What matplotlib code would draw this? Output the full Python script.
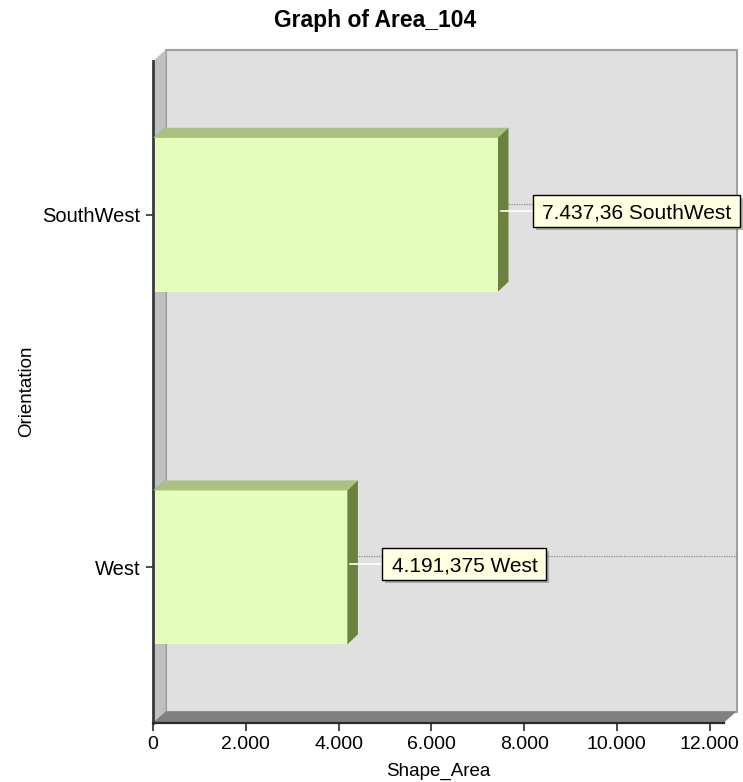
import matplotlib
matplotlib.use("Agg")
import matplotlib.pyplot as plt
from matplotlib.patches import Polygon, Rectangle
from matplotlib.lines import Line2D
from matplotlib.transforms import IdentityTransform

# ---- data ----
categories = ["West", "SouthWest"]
values = [4191.375, 7437.36]
value_labels = ["4.191,375", "7.437,36"]
x_ticks = [0, 2000, 4000, 6000, 8000, 10000, 12000]
x_tick_labels = ["0", "2.000", "4.000", "6.000", "8.000", "10.000", "12.000"]

title = "Graph of Area_104"
x_label = "Shape_Area"
y_label = "Orientation"

plt.rcParams["font.family"] = ["Liberation Sans", "DejaVu Sans"]

W, H, DPI = 743, 782, 100
fig = plt.figure(figsize=(W / DPI, H / DPI), dpi=DPI)
fig.patch.set_facecolor("white")

left_px, right_px, top_px, bottom_px = 153, 724, 61, 722.5
ax = fig.add_axes([left_px / W, (H - bottom_px) / H,
                   (right_px - left_px) / W, (bottom_px - top_px) / H])
ax.set_zorder(1)
xmax = 12310
ylo, yhi = -0.44, 1.436
ax.set_xlim(0, xmax)
ax.set_ylim(ylo, yhi)
ax.patch.set_visible(False)

# depth of the 3D frame and of the bars, in pixels
WALL_D = (12.5, 11.0)
BAR_D = (10.5, 10.0)
BAR_H = 0.4365

ident = IdentityTransform()


def px(x, y, d=(0, 0)):
    X, Y = ax.transData.transform((x, y))
    return (X + d[0], Y + d[1])


# back wall
back = Polygon([px(0, ylo, WALL_D), px(xmax, ylo, WALL_D),
                px(xmax, yhi, WALL_D), px(0, yhi, WALL_D)],
               closed=True, transform=ident, facecolor="#E0E0E0",
               edgecolor="#A0A0A0", linewidth=1.5, zorder=0.5)
fig.add_artist(back)

# left wall
lwall = Polygon([px(0, ylo), px(0, yhi), px(0, yhi, WALL_D), px(0, ylo, WALL_D)],
                closed=True, transform=ident, facecolor="#C0C0C0",
                edgecolor="none", zorder=0.6)
fig.add_artist(lwall)

# floor
floor = Polygon([px(0, ylo), px(xmax, ylo), px(xmax, ylo, WALL_D), px(0, ylo, WALL_D)],
                closed=True, transform=ident, facecolor="#808080",
                edgecolor="none", zorder=0.7)
fig.add_artist(floor)

# dotted grid lines on the back wall at each category
for i in range(len(categories)):
    p0 = px(0, i, WALL_D)
    p1 = px(xmax, i, WALL_D)
    fig.add_artist(Line2D([p0[0], p1[0]], [p0[1], p1[1]], transform=ident,
                          color="#8C8C8C", linewidth=0.9,
                          linestyle=(0, (1, 1)), zorder=0.8))

# front faces of the bars
ax.barh(range(len(categories)), values, height=BAR_H, color="#E4FDBB",
        edgecolor="none", zorder=2)

# top and side faces of the bars
for i, v in enumerate(values):
    yt, yb = i + BAR_H / 2, i - BAR_H / 2
    top = Polygon([px(0, yt), px(v, yt), px(v, yt, BAR_D), px(0, yt, BAR_D)],
                  closed=True, transform=ident, facecolor="#A9C07F",
                  edgecolor="none", zorder=2.1)
    side = Polygon([px(v, yb), px(v, yt), px(v, yt, BAR_D), px(v, yb, BAR_D)],
                   closed=True, transform=ident, facecolor="#6B813F",
                   edgecolor="none", zorder=2.2)
    fig.add_artist(top)
    fig.add_artist(side)

# axes lines and ticks
for s in ("top", "right"):
    ax.spines[s].set_visible(False)
ax.spines["left"].set_color("#3A3A3A")
ax.spines["left"].set_linewidth(2.0)
ax.spines["bottom"].set_color("#2A2A2A")
ax.spines["bottom"].set_linewidth(1.6)
ax.spines["left"].set_zorder(3)
ax.spines["bottom"].set_zorder(3)

ax.set_xticks(x_ticks, x_tick_labels)
ax.set_yticks(range(len(categories)), categories)
ax.tick_params(axis="x", direction="out", length=5.5, width=1.2,
               color="#2A2A2A", labelsize=14, pad=4)
ax.tick_params(axis="y", direction="out", length=5, width=1.2,
               color="#2A2A2A", labelsize=14.5, pad=4)

# value labels with leader lines
fig.canvas.draw()
renderer = fig.canvas.get_renderer()
for i, (v, lab) in enumerate(zip(values, value_labels)):
    X, Y = px(v, i)
    cy = Y + 3.5
    bx = X + 35
    txt = fig.text(bx + 9.5, cy - 7.5, f"{lab} {categories[i]}", transform=ident,
                   fontsize=15, color="black", ha="left", va="baseline",
                   zorder=6)
    ext = txt.get_window_extent(renderer)
    bw = ext.width + 18
    bh = 32
    shadow = Rectangle((bx + 3, cy - bh / 2 - 3), bw, bh, transform=ident,
                       facecolor="#7A7A7A", edgecolor="none", alpha=0.55,
                       zorder=4.8)
    box = Rectangle((bx, cy - bh / 2), bw, bh, transform=ident,
                    facecolor="#FFFFE1", edgecolor="black", linewidth=1.0,
                    zorder=5)
    fig.add_artist(shadow)
    fig.add_artist(box)
    fig.add_artist(Line2D([X + 3, bx], [cy, cy], transform=ident,
                          color="white", linewidth=1.2, zorder=4.5))

# title and axis labels
fig.text(0.505, 1 - 21 / H, title, ha="center", va="center",
         fontsize=16.5, fontweight="bold")
fig.text(438 / W, 1 - 771 / H, x_label, ha="center", va="center", fontsize=13.5)
fig.text(27 / W, 1 - 391.5 / H, y_label, ha="center", va="center",
         fontsize=13.5, rotation=90)

fig.savefig("out.png", dpi=DPI)
